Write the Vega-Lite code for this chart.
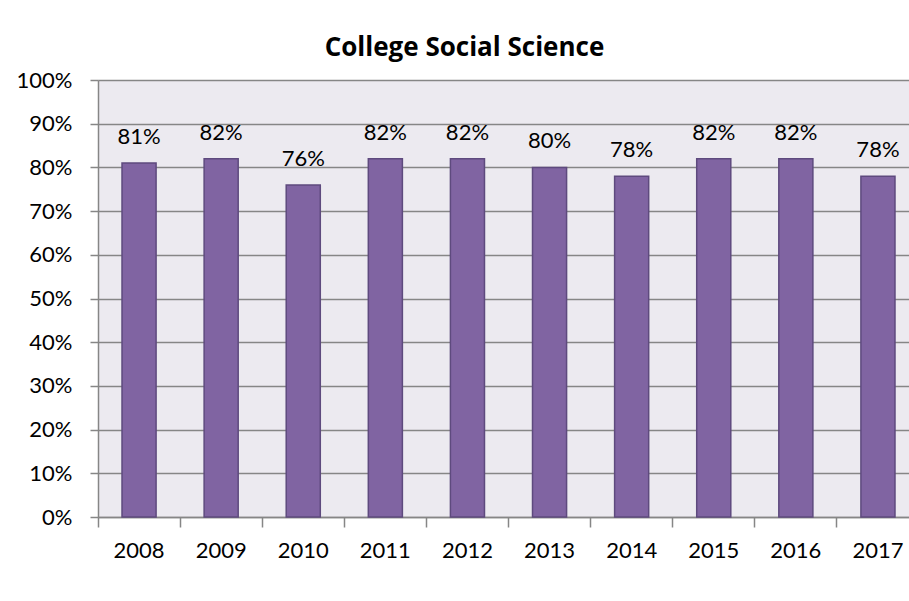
{
  "$schema": "https://vega.github.io/schema/vega-lite/v6.json",
  "autosize": {"type": "none"},
  "padding": {"left": 98, "top": 80, "right": 0, "bottom": 84},
  "width": 821,
  "height": 437,
  "background": "white",
  "title": {
    "text": "College Social Science",
    "font": "Open Sans",
    "fontSize": 26,
    "fontWeight": "bold",
    "color": "#000000",
    "anchor": "middle",
    "dx": -44,
    "offset": 8
  },
  "data": {
    "values": [
      {"year": "2008", "rate": 0.81},
      {"year": "2009", "rate": 0.82},
      {"year": "2010", "rate": 0.76},
      {"year": "2011", "rate": 0.82},
      {"year": "2012", "rate": 0.82},
      {"year": "2013", "rate": 0.80},
      {"year": "2014", "rate": 0.78},
      {"year": "2015", "rate": 0.82},
      {"year": "2016", "rate": 0.82},
      {"year": "2017", "rate": 0.78}
    ]
  },
  "encoding": {
    "x": {
      "field": "year",
      "type": "ordinal",
      "scale": {"paddingInner": 0, "paddingOuter": 0},
      "axis": {
        "title": null,
        "labelAngle": 0,
        "bandPosition": 0,
        "labelFont": "Lato",
        "labelFontSize": 22,
        "labelColor": "#000000",
        "labelPadding": 13,
        "tickSize": 10,
        "tickColor": "#868686",
        "domainColor": "#868686",
        "domainWidth": 1.5,
        "tickWidth": 1.5,
        "grid": false
      }
    },
    "y": {
      "field": "rate",
      "type": "quantitative",
      "scale": {"domain": [0, 1], "nice": false},
      "axis": {
        "title": null,
        "format": ".0%",
        "values": [0, 0.1, 0.2, 0.3, 0.4, 0.5, 0.6, 0.7, 0.8, 0.9, 1],
        "labelFont": "Lato",
        "labelFontSize": 22,
        "labelColor": "#000000",
        "labelPadding": 18,
        "tickSize": 8,
        "tickColor": "#868686",
        "tickWidth": 1.5,
        "domainColor": "#868686",
        "domainWidth": 1.5,
        "grid": true,
        "gridColor": "#868686",
        "gridWidth": 1.5
      }
    }
  },
  "layer": [
    {
      "mark": {"type": "bar", "color": "#8064A2", "stroke": "#5E4A7E", "strokeWidth": 1.5, "width": {"band": 0.415}}
    },
    {
      "mark": {"type": "text", "font": "Lato", "fontSize": 22, "color": "#000000", "baseline": "alphabetic", "dy": -19},
      "encoding": {
        "text": {"field": "rate", "type": "quantitative", "format": ".0%"}
      }
    }
  ],
  "config": {
    "view": {"fill": "#ECEAF0", "stroke": null}
  }
}
